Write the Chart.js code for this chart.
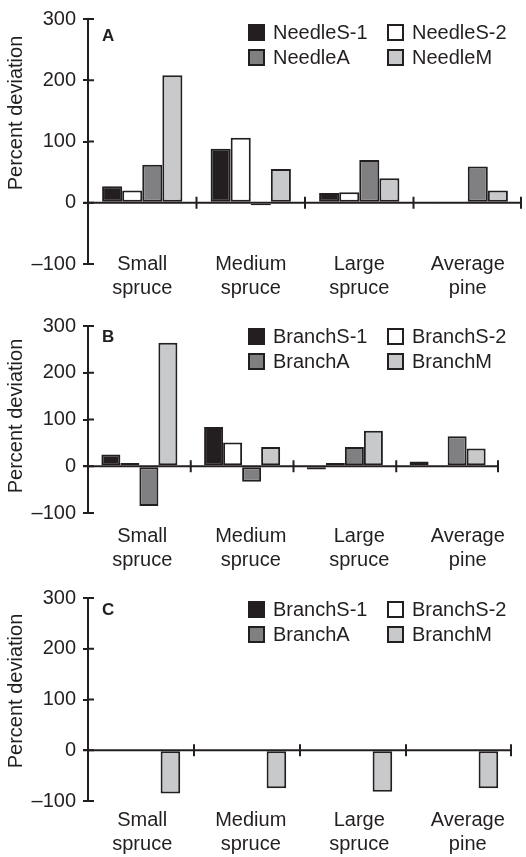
<!DOCTYPE html>
<html>
<head>
<meta charset="utf-8">
<script src="https://cdn.jsdelivr.net/npm/chart.js@4.4.1/dist/chart.umd.min.js"></script>
<style>
  body { margin: 0; background: #fff; }
  .panel { position: absolute; left: 0; width: 526px; }
</style>
</head>
<body>
<div class="panel" style="top:0;height:300px"><canvas id="chartA"></canvas></div>
<div class="panel" style="top:300px;height:270px"><canvas id="chartB"></canvas></div>
<div class="panel" style="top:570px;height:287px"><canvas id="chartC"></canvas></div>
<script>
const categories = ["Small spruce", "Medium spruce", "Large spruce", "Average pine"];
const categoryLines = [["Small", "spruce"], ["Medium", "spruce"], ["Large", "spruce"], ["Average", "pine"]];
const yTicks = [-100, 0, 100, 200, 300];

const needleLabels = ["NeedleS-1", "NeedleS-2", "NeedleA", "NeedleM"];
const branchLabels = ["BranchS-1", "BranchS-2", "BranchA", "BranchM"];

// panel A - needles
const needleS1 = [27, 88, 16, -2];
const needleS2 = [20, 106, 17, 0];
const needleA = [62, -4, 70, 59];
const needleM = [208, 55, 40, 20];

// panel B - branches
const branchS1 = [25, 84, -7, 10];
const branchS2 = [7, 51, 7, 0];
const branchA = [-85, -33, 41, 64];
const branchM = [264, 41, 76, 38];

// panel C - branches (only M shown)
const branchS1C = [null, null, null, null];
const branchS2C = [null, null, null, null];
const branchAC = [null, null, null, null];
const branchMC = [-85, -75, -82, -75];

const fills = ["#231f20", "#ffffff", "#808083", "#c8c9cb"];
const ink = "#231f20";
const font = "'Liberation Sans', Arial, Helvetica, sans-serif";
const LIFT = 40; // keeps the category labels out of the scale's clip box

Chart.defaults.font.family = font;
Chart.defaults.color = ink;

const decorations = {
  id: "decorations",
  afterLayout(chart) {
    chart.scales.xl.top -= LIFT;
  },
  afterDatasetsDraw(chart, args, opts) {
    const { ctx, chartArea } = chart;
    const x = chart.scales.x, y = chart.scales.y;
    const y0 = y.getPixelForValue(0);
    ctx.save();
    ctx.strokeStyle = ink;
    ctx.lineWidth = 2;
    // zero line
    ctx.beginPath();
    ctx.moveTo(chartArea.left - 5, y0);
    ctx.lineTo(chartArea.right, y0);
    ctx.stroke();
    // category separators
    for (let i = 0; i < categories.length; i++) {
      const px = Math.min(x.getPixelForValue(i + 0.5), chartArea.right - 1);
      ctx.beginPath();
      ctx.moveTo(px, y0 - 6);
      ctx.lineTo(px, y0 + 6);
      ctx.stroke();
    }
    // inner half of the y ticks
    yTicks.forEach(v => {
      const py = y.getPixelForValue(v);
      ctx.beginPath();
      ctx.moveTo(chartArea.left, py);
      ctx.lineTo(chartArea.left + 6, py);
      ctx.stroke();
    });
    ctx.fillStyle = ink;
    ctx.textBaseline = "middle";
    // y title
    ctx.save();
    ctx.translate(16, chartArea.top + opts.titleDy);
    ctx.rotate(-Math.PI / 2);
    ctx.textAlign = "center";
    ctx.font = "20px " + font;
    ctx.fillText("Percent deviation", 0, 0);
    ctx.restore();
    // panel letter
    ctx.font = "bold 17px " + font;
    ctx.textAlign = "left";
    ctx.fillText(opts.letter, 102, chartArea.top + opts.letterDy);
    // legend, two columns
    ctx.font = "20px " + font;
    chart.data.datasets.forEach((ds, i) => {
      const col = i % 2, row = Math.floor(i / 2);
      const bx = col === 0 ? 249 : 388;
      const cy = chartArea.top + opts.legendDy + row * 25;
      ctx.fillStyle = ds.backgroundColor;
      ctx.fillRect(bx, cy - 7, 15, 15);
      ctx.strokeRect(bx, cy - 7, 15, 15);
      ctx.fillStyle = ink;
      ctx.fillText(ds.label, bx + 24, cy + 1);
    });
    ctx.restore();
  }
};

function makePanel(id, labels, series, cfg) {
  return new Chart(document.getElementById(id), {
    type: "bar",
    data: {
      labels: categories,
      datasets: series.map((values, i) => ({
        label: labels[i],
        data: values,
        backgroundColor: fills[i],
        borderColor: ink,
        borderWidth: 2,
        borderSkipped: false,
        categoryPercentage: 0.74,
        barPercentage: 1.0,
        xAxisID: "x",
      }))
    },
    plugins: [decorations],
    options: {
      responsive: true,
      maintainAspectRatio: false,
      animation: false,
      layout: {
        padding: { top: cfg.padTop, right: cfg.padRight, left: 0, bottom: 0 }
      },
      scales: {
        x: {
          type: "category",
          display: false,
          offset: true,
        },
        xl: {
          type: "linear",
          position: "bottom",
          offset: false,
          min: 0,
          max: cfg.labelSpan,
          afterBuildTicks: (scale) => {
            scale.ticks = categoryLines.map((_, i) => ({ value: i + 0.5 }));
          },
          afterFit: (scale) => {
            scale.height = cfg.xHeight;
            scale.paddingLeft = 0;
            scale.paddingRight = 0;
          },
          grid: { display: false, drawTicks: false },
          border: { display: false },
          ticks: {
            autoSkip: false,
            maxRotation: 0,
            padding: cfg.labelPad + LIFT,
            font: { size: 20, lineHeight: 1.2 },
            color: ink,
            callback: (v, i) => categoryLines[i],
          }
        },
        y: {
          min: -100,
          max: 300,
          afterBuildTicks: (scale) => {
            scale.ticks = yTicks.map(v => ({ value: v }));
          },
          afterFit: (scale) => { scale.width = 88; },
          border: { display: true, color: ink, width: 2 },
          grid: {
            drawOnChartArea: false,
            drawTicks: true,
            tickLength: 5,
            lineWidth: 2,
            color: ink,
          },
          ticks: {
            padding: 7,
            font: { size: 20 },
            color: ink,
            callback: (v) => v < 0 ? "\u2013" + Math.abs(v) : String(v),
          },
          title: { display: false }
        }
      },
      plugins: {
        legend: { display: false },
        tooltip: { enabled: false },
        decorations: { letter: cfg.letter, letterDy: cfg.letterDy, legendDy: cfg.legendDy, titleDy: cfg.titleDy }
      }
    }
  });
}

makePanel("chartA", needleLabels, [needleS1, needleS2, needleA, needleM], {
  letter: "A", padTop: 14, padRight: 4, xHeight: 36, labelPad: -12,
  labelSpan: 4, letterDy: 17, legendDy: 13, titleDy: 94
});
makePanel("chartB", branchLabels, [branchS1, branchS2, branchA, branchM], {
  letter: "B", padTop: 26, padRight: 27, xHeight: 57, labelPad: 11,
  labelSpan: 4 * 411 / 434, letterDy: 11, legendDy: 10, titleDy: 90
});
makePanel("chartC", branchLabels, [branchS1C, branchS2C, branchAC, branchMC], {
  letter: "C", padTop: 28, padRight: 14, xHeight: 56, labelPad: 7,
  labelSpan: 4 * 424 / 434, letterDy: 12, legendDy: 11, titleDy: 93
});
</script>
</body>
</html>
